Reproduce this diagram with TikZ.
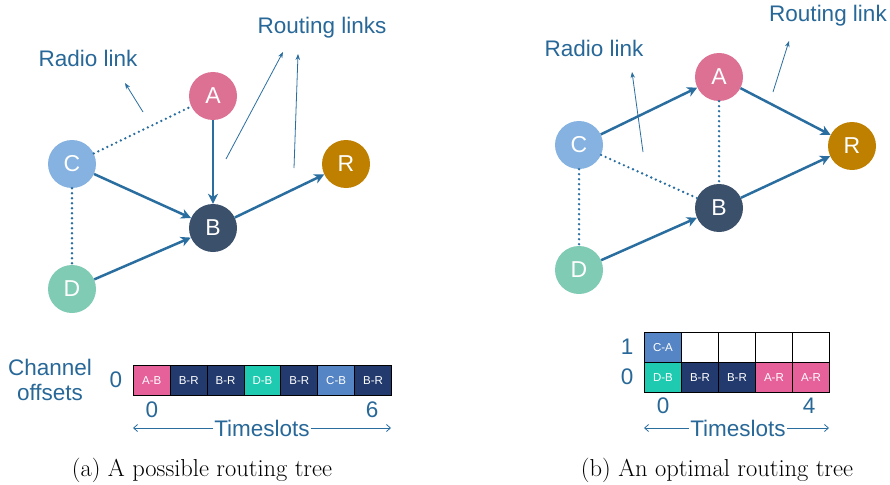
\documentclass[tikz,border=0pt]{standalone}
\usepackage{fontspec}
\newfontfamily\sff{Liberation Sans}
\usetikzlibrary{arrows.meta}
\definecolor{linkc}{RGB}{42,110,160}
\definecolor{lblc}{RGB}{40,104,152}
\definecolor{colA}{RGB}{220,113,148}
\definecolor{colC}{RGB}{133,178,224}
\definecolor{colB}{RGB}{59,80,107}
\definecolor{colR}{RGB}{191,128,0}
\definecolor{colD}{RGB}{128,203,180}
\definecolor{cpink}{RGB}{230,96,154}
\definecolor{cnavy}{RGB}{35,58,110}
\definecolor{cteal}{RGB}{30,203,176}
\definecolor{cblue}{RGB}{85,133,197}
\begin{document}
\begin{tikzpicture}[x=1pt,y=-1pt,
  vtx/.style={circle, minimum size=48pt, inner sep=0pt, text=white, font=\sff\fontsize{23}{23}\selectfont},
  route/.style={line width=2.5pt, draw=linkc, -{Stealth[length=10pt,width=10pt,inset=3pt]}},
  radio/.style={line width=2.6pt, draw=linkc, dash pattern=on 0pt off 5pt, line cap=round},
  pointer/.style={line width=0.8pt, draw=linkc, -{Stealth[length=6pt,width=4.5pt]}},
  lbl/.style={text=lblc, font=\sff\fontsize{22.5}{25}\selectfont, inner sep=0pt, align=center},
  cellbox/.style={draw=black, line width=0.8pt, minimum height=30pt, inner sep=0pt, anchor=north west, text=white, font=\sff\fontsize{11.5}{12}\selectfont},
  tsline/.style={line width=0.8pt, draw=linkc},
  capt/.style={font=\fontsize{24.5}{28}\selectfont, inner sep=0pt}
]
\useasboundingbox (0,0) rectangle (890,484);
\fill[white] (0,0) rectangle (890,484);

% ---------------- left graph
\node[vtx, fill=colA] (lA) at (213,96) {A};
\node[vtx, fill=colC] (lC) at (72,164) {C};
\node[vtx, fill=colB] (lB) at (213,228) {B};
\node[vtx, fill=colR] (lR) at (346,164) {R};
\node[vtx, fill=colD] (lD) at (72,289) {D};
\draw[radio] (lC) -- (lA);
\draw[radio] (lC) -- (lD);
\draw[route] (lA) -- (lB);
\draw[route] (lC) -- (lB);
\draw[route] (lD) -- (lB);
\draw[route] (lB) -- (lR);

\node[lbl] (lradio) at (88,58) {Radio link};
\node[lbl] (lrout) at (322,28) {Routing links};
\coordinate (lp1s) at (143,112); \coordinate (lp1e) at (125,83);
\coordinate (lp2s) at (226,159); \coordinate (lp2e) at (283,52);
\coordinate (lp3s) at (294,168); \coordinate (lp3e) at (298,54);
\draw[pointer] (lp1s) -- (lp1e);
\draw[pointer] (lp2s) -- (lp2e);
\draw[pointer] (lp3s) -- (lp3e);

% left table
\node[lbl] (lch) at (50,380) {Channel\\offsets};
\node[lbl] (lrow0) at (116,380) {0};
\foreach \i/\t/\c in {0/A-B/cpink,1/B-R/cnavy,2/B-R/cnavy,3/D-B/cteal,4/B-R/cnavy,5/C-B/cblue,6/B-R/cnavy}{
  \node[cellbox, fill=\c, minimum width=36.86pt] (lc\i) at ({133+36.86*\i},365) {\t};
}
\node[lbl] (lt0) at (152,410) {0};
\node[lbl] (lt6) at (372,410) {6};
\node[lbl] (lts) at (262,428) {Timeslots};
\coordinate (ltl) at (133,428); \coordinate (ltr) at (391,428);
\draw[tsline, {Straight Barb[length=4pt,width=7pt]}-] (ltl) -- ([xshift=-1pt]lts.west);
\draw[tsline, -{Straight Barb[length=4pt,width=7pt]}] ([xshift=1pt]lts.east) -- (ltr);
\node[capt] (lcap) at (202,470) {(a) A possible routing tree};

% ---------------- right graph
\node[vtx, fill=colA] (rA) at (719,77) {A};
\node[vtx, fill=colC] (rC) at (579,145) {C};
\node[vtx, fill=colB] (rB) at (719,208) {B};
\node[vtx, fill=colR] (rR) at (852,146) {R};
\node[vtx, fill=colD] (rD) at (579,270) {D};
\draw[radio] (rC) -- (rB);
\draw[radio] (rA) -- (rB);
\draw[radio] (rC) -- (rD);
\draw[route] (rC) -- (rA);
\draw[route] (rA) -- (rR);
\draw[route] (rD) -- (rB);
\draw[route] (rB) -- (rR);

\node[lbl] (rradio) at (594,48) {Radio link};
\node[lbl] (rrout) at (828,16) {Routing link};
\coordinate (rp1s) at (643,152); \coordinate (rp1e) at (632,72);
\coordinate (rp2s) at (773,92); \coordinate (rp2e) at (789,41);
\draw[pointer] (rp1s) -- (rp1e);
\draw[pointer] (rp2s) -- (rp2e);

% right table
\node[lbl] (rrow1) at (627,347) {1};
\node[lbl] (rrow0) at (627,377) {0};
\node[cellbox, fill=cblue, minimum width=37pt] (r1c0) at (644,332) {C-A};
\foreach \i in {1,...,4}{
  \node[cellbox, fill=white, minimum width=37pt] (r1c\i) at ({644+37*\i},332) {};
}
\foreach \i/\t/\c in {0/D-B/cteal,1/B-R/cnavy,2/B-R/cnavy,3/A-R/cpink,4/A-R/cpink}{
  \node[cellbox, fill=\c, minimum width=37pt] (r0c\i) at ({644+37*\i},362) {\t};
}
\node[lbl] (rt0) at (663,406) {0};
\node[lbl] (rt4) at (809,406) {4};
\node[lbl] (rts) at (738,428) {Timeslots};
\coordinate (rtl) at (644,428); \coordinate (rtr) at (829,428);
\draw[tsline, {Straight Barb[length=4pt,width=7pt]}-] (rtl) -- ([xshift=-1pt]rts.west);
\draw[tsline, -{Straight Barb[length=4pt,width=7pt]}] ([xshift=1pt]rts.east) -- (rtr);
\node[capt] (rcap) at (717,470) {(b) An optimal routing tree};
\end{tikzpicture}
\end{document}
